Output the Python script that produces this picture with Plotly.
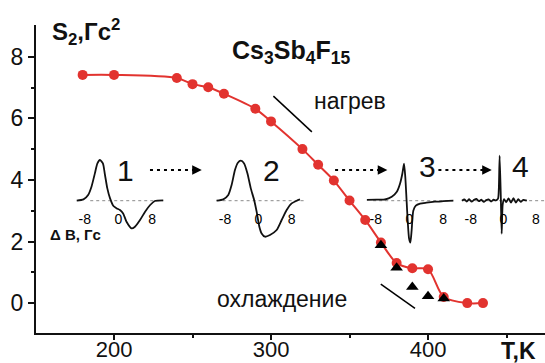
import plotly.graph_objects as go

# Second moment S2 of the 19F NMR line vs temperature, heating run
T_heat = [180, 200, 240, 250, 260, 270, 290, 300, 320, 330, 340, 350, 360, 370, 380, 390, 400, 410, 425, 435]
S_heat = [7.41, 7.41, 7.31, 7.11, 7.01, 6.80, 6.31, 5.90, 5.00, 4.49, 3.98, 3.33, 2.70, 1.97, 1.30, 1.13, 1.10, 0.20, 0.0, 0.0]

# Cooling run
T_cool = [370, 380, 390, 400, 410]
S_cool = [1.88, 1.15, 0.52, 0.22, 0.15]

# Derivative line shapes (field offset in Gs, relative amplitude)
B1 = [-9.9, -8.3, -7.2, -6.4, -5.6, -5.0, -4.4, -3.7, -3.2, -2.65, -2.0, -1.2, -0.4, 0.35, 1.1, 1.9, 3.1, 3.9, 5.1, 6.3, 7.5, 8.6, 10.6]
A1 = [0, 1.3, 5.7, 14, 27.3, 37.3, 40.7, 37.3, 25.7, 12.3, 2.3, -5.3, -7.7, -9.3, -12.7, -21, -27.7, -26, -19.3, -11, -4.3, -0.3, 0.3]

B2 = [-10, -8.4, -7.2, -6.4, -5.6, -4.9, -4.2, -3.4, -2.6, -1.8, -1.0, -0.4, 0.25, 0.8, 1.6, 2.8, 4.4, 5.6, 6.8, 8.0, 9.2, 10]
A2 = [0, 1.3, 5.7, 15.7, 30.7, 38, 40, 37.3, 27.3, 12.3, 0.7, -11, -26, -32.7, -36, -34.3, -29.3, -19.3, -9.3, -2.7, 0, 1.3]

B3 = [-10.1, -7.8, -5.8, -4.2, -3.0, -2.25, -1.7, -1.3, -1.0, -0.7, -0.4, -0.1, 0.2, 0.5, 0.9, 1.5, 2.5, 4, 6, 8, 10.4]
A3 = [0.8, 1.0, 1.2, 4, 9, 17, 27, 37, 24, 1, -22, -38, -42, -30, -10, -5, -3, -2, -1, -0.5, 0]

B4 = [-10.2, -9.6, -9.0, -8.4, -7.8, -7.2, -6.6, -6.0, -5.4, -4.8, -4.2, -3.6, -3.0, -2.4, -1.8, -1.3, -1.1, -0.9, -0.6, -0.4, -0.15, 0.2, 0.7, 1.3, 1.9, 2.5, 3.1, 3.7, 4.3, 4.9, 5.8]
A4 = [0, 1.2, -0.8, 1.5, -1.0, 0.8, 1.8, -0.5, 1.0, -1.2, 0.6, 1.4, -0.8, 1.0, 0.3, 2.0, 12, 45, 2, -33, -4, 1.5, -1.5, 2.2, -1.8, 2.5, -2.0, 1.6, -1.2, 0.8, 0]

inset_ticks = [-8, 0, 8]
inset_labels = ["-8", "0", "8"]
spectra = [(B1, A1), (B2, A2), (B3, A3), (B4, A4)]
stage_labels = ["1", "2", "3", "4"]

x_ticks = [200, 300, 400]
y_ticks = [0, 2, 4, 6, 8]

# ---- figure geometry (pixels) ----
W, H = 545, 363
ML, MR, MT, MB = 36, 0, 25, 30
PW, PH = W - ML - MR, H - MT - MB


def fx(px):
    return (px - ML) / PW


def fy(py):
    return (H - MB - py) / PH


RED = "#e2332f"
FONT = "Arial, Liberation Sans, sans-serif"

fig = go.Figure()

fig.add_trace(go.Scatter(
    x=T_heat, y=S_heat, mode="lines+markers",
    line=dict(color=RED, width=2, shape="spline", smoothing=0.8),
    marker=dict(color=RED, size=10),
    showlegend=False, hoverinfo="skip",
))
fig.add_trace(go.Scatter(
    x=T_cool, y=S_cool, mode="markers",
    marker=dict(color="black", size=11, symbol="triangle-up"),
    showlegend=False, hoverinfo="skip",
))

# inset panels: zero-field pixel position, px per Gs, field span, baseline span
insets = [
    (118.5, 4.22, -11, 12, -6.7, 10.6),
    (258.3, 4.17, -11, 12, -10.0, 11.2),
    (409.5, 4.22, -11, 12, -8.6, 10.3),
    (503.3, 4.06, -11, 10.2, -9.9, 10.2),
]
inset_top, inset_bot, inset_base = 150, 250, 200.7

layout_axes = {}
shapes = []
for i, ((B, A), (c, s, b0, b1, d0, d1)) in enumerate(zip(spectra, insets), start=2):
    xa, ya = f"x{i}", f"y{i}"
    fig.add_trace(go.Scatter(
        x=B, y=A, mode="lines", xaxis=xa, yaxis=ya,
        line=dict(color="#111", width=1.8, shape="spline", smoothing=0.6),
        showlegend=False, hoverinfo="skip",
    ))
    layout_axes[f"xaxis{i}"] = dict(
        domain=[fx(c + s * b0), min(1.0, fx(c + s * b1))], range=[b0, b1],
        anchor="free", position=fy(209), showgrid=False, zeroline=False,
        showline=False, ticks="", tickvals=inset_ticks, ticktext=inset_labels,
        tickfont=dict(family=FONT, size=14, color="black"), fixedrange=True,
        automargin=False,
    )
    layout_axes[f"yaxis{i}"] = dict(
        domain=[fy(inset_bot), fy(inset_top)],
        range=[-(inset_bot - inset_base), inset_base - inset_top],
        anchor=xa, visible=False, fixedrange=True, automargin=False,
    )
    shapes.append(dict(type="line", xref=xa, yref=ya, x0=d0, x1=d1, y0=0, y1=0,
                       line=dict(color="#8a8a8a", width=1, dash="dot"), layer="below"))

# slope marks beside the heating and cooling branches
shapes.append(dict(type="line", xref="x", yref="y", x0=301.5, y0=6.72, x1=326.0, y1=5.56,
                   line=dict(color="black", width=1.5)))
shapes.append(dict(type="line", xref="x", yref="y", x0=369.9, y0=0.62, x1=391.7, y1=-0.17,
                   line=dict(color="black", width=1.5)))

# dotted arrows between the line-shape stages
arrows = [(222.9, 255.9), (340.8, 374.1), (406.6, 440.6)]
arrow_y = 4.32
annotations = []
for a0, a1 in arrows:
    shapes.append(dict(type="line", xref="x", yref="y", x0=a0, x1=a1 - 2, y0=arrow_y, y1=arrow_y,
                       line=dict(color="black", width=2, dash="3px,4px")))
    annotations.append(dict(x=a1, y=arrow_y, xref="x", yref="y", ax=-7, ay=0, text="",
                            showarrow=True, arrowhead=2, arrowsize=1.2, arrowwidth=1.6,
                            arrowcolor="black", standoff=0))

stage_pos = [(207.3, 4.32), (300.4, 4.32), (399.7, 4.42), (458.6, 4.42)]
for lab, (tx, sy) in zip(stage_labels, stage_pos):
    annotations.append(dict(x=tx, y=sy, xref="x", yref="y", text=lab, showarrow=False,
                            font=dict(family=FONT, size=30, color="#111")))

annotations += [
    dict(x=159.2, y=8.79, xref="x", yref="y", text="<b>S<sub>2</sub>,Гс<sup>2</sup></b>",
         showarrow=False, xanchor="left", yanchor="middle",
         font=dict(family=FONT, size=24, color="#111")),
    dict(x=312.7, y=8.14, xref="x", yref="y", text="<b>Cs<sub>3</sub>Sb<sub>4</sub>F<sub>15</sub></b>",
         showarrow=False, font=dict(family=FONT, size=25, color="#111")),
    dict(x=350.0, y=6.55, xref="x", yref="y", text="нагрев", showarrow=False,
         font=dict(family=FONT, size=23, color="#111")),
    dict(x=306.7, y=0.13, xref="x", yref="y", text="охлаждение", showarrow=False,
         font=dict(family=FONT, size=23, color="#111")),
    dict(x=175.7, y=2.22, xref="x", yref="y", text="<b>Δ B, Гс</b>", showarrow=False,
         font=dict(family=FONT, size=15, color="#111")),
    dict(x=fx(518.5), y=fy(350.8), xref="paper", yref="paper", text="<b>T,K</b>",
         xanchor="center", yanchor="middle",
         showarrow=False, font=dict(family=FONT, size=23, color="#111")),
]

fig.update_layout(
    width=W, height=H,
    margin=dict(l=ML, r=MR, t=MT, b=MB, pad=0, autoexpand=False),
    paper_bgcolor="white", plot_bgcolor="rgba(0,0,0,0)",
    xaxis=dict(range=[150.3, 474.5], tickvals=x_ticks, ticks="outside", ticklen=5, tickwidth=2,
               showline=True, linewidth=2, linecolor="#111", showgrid=False, zeroline=False,
               minor=dict(tickvals=[250, 350, 450], ticks="outside", ticklen=3, tickwidth=2,
                          tickcolor="#111"),
               tickcolor="#111", tickfont=dict(family=FONT, size=22, color="#111"),
               ticklabelstandoff=-9, fixedrange=True, automargin=False),
    yaxis=dict(range=[-0.97, 9.03], tickvals=y_ticks, ticks="outside", ticklen=6, tickwidth=2,
               showline=True, linewidth=2, linecolor="#111", showgrid=False, zeroline=False,
               minor=dict(tickvals=[1, 3, 5, 7], ticks="outside", ticklen=3, tickwidth=2,
                          tickcolor="#111"),
               tickcolor="#111", tickfont=dict(family=FONT, size=23, color="#111"),
               fixedrange=True, automargin=False),
    shapes=shapes,
    annotations=annotations,
    **layout_axes,
)

fig.write_html("out.html")
